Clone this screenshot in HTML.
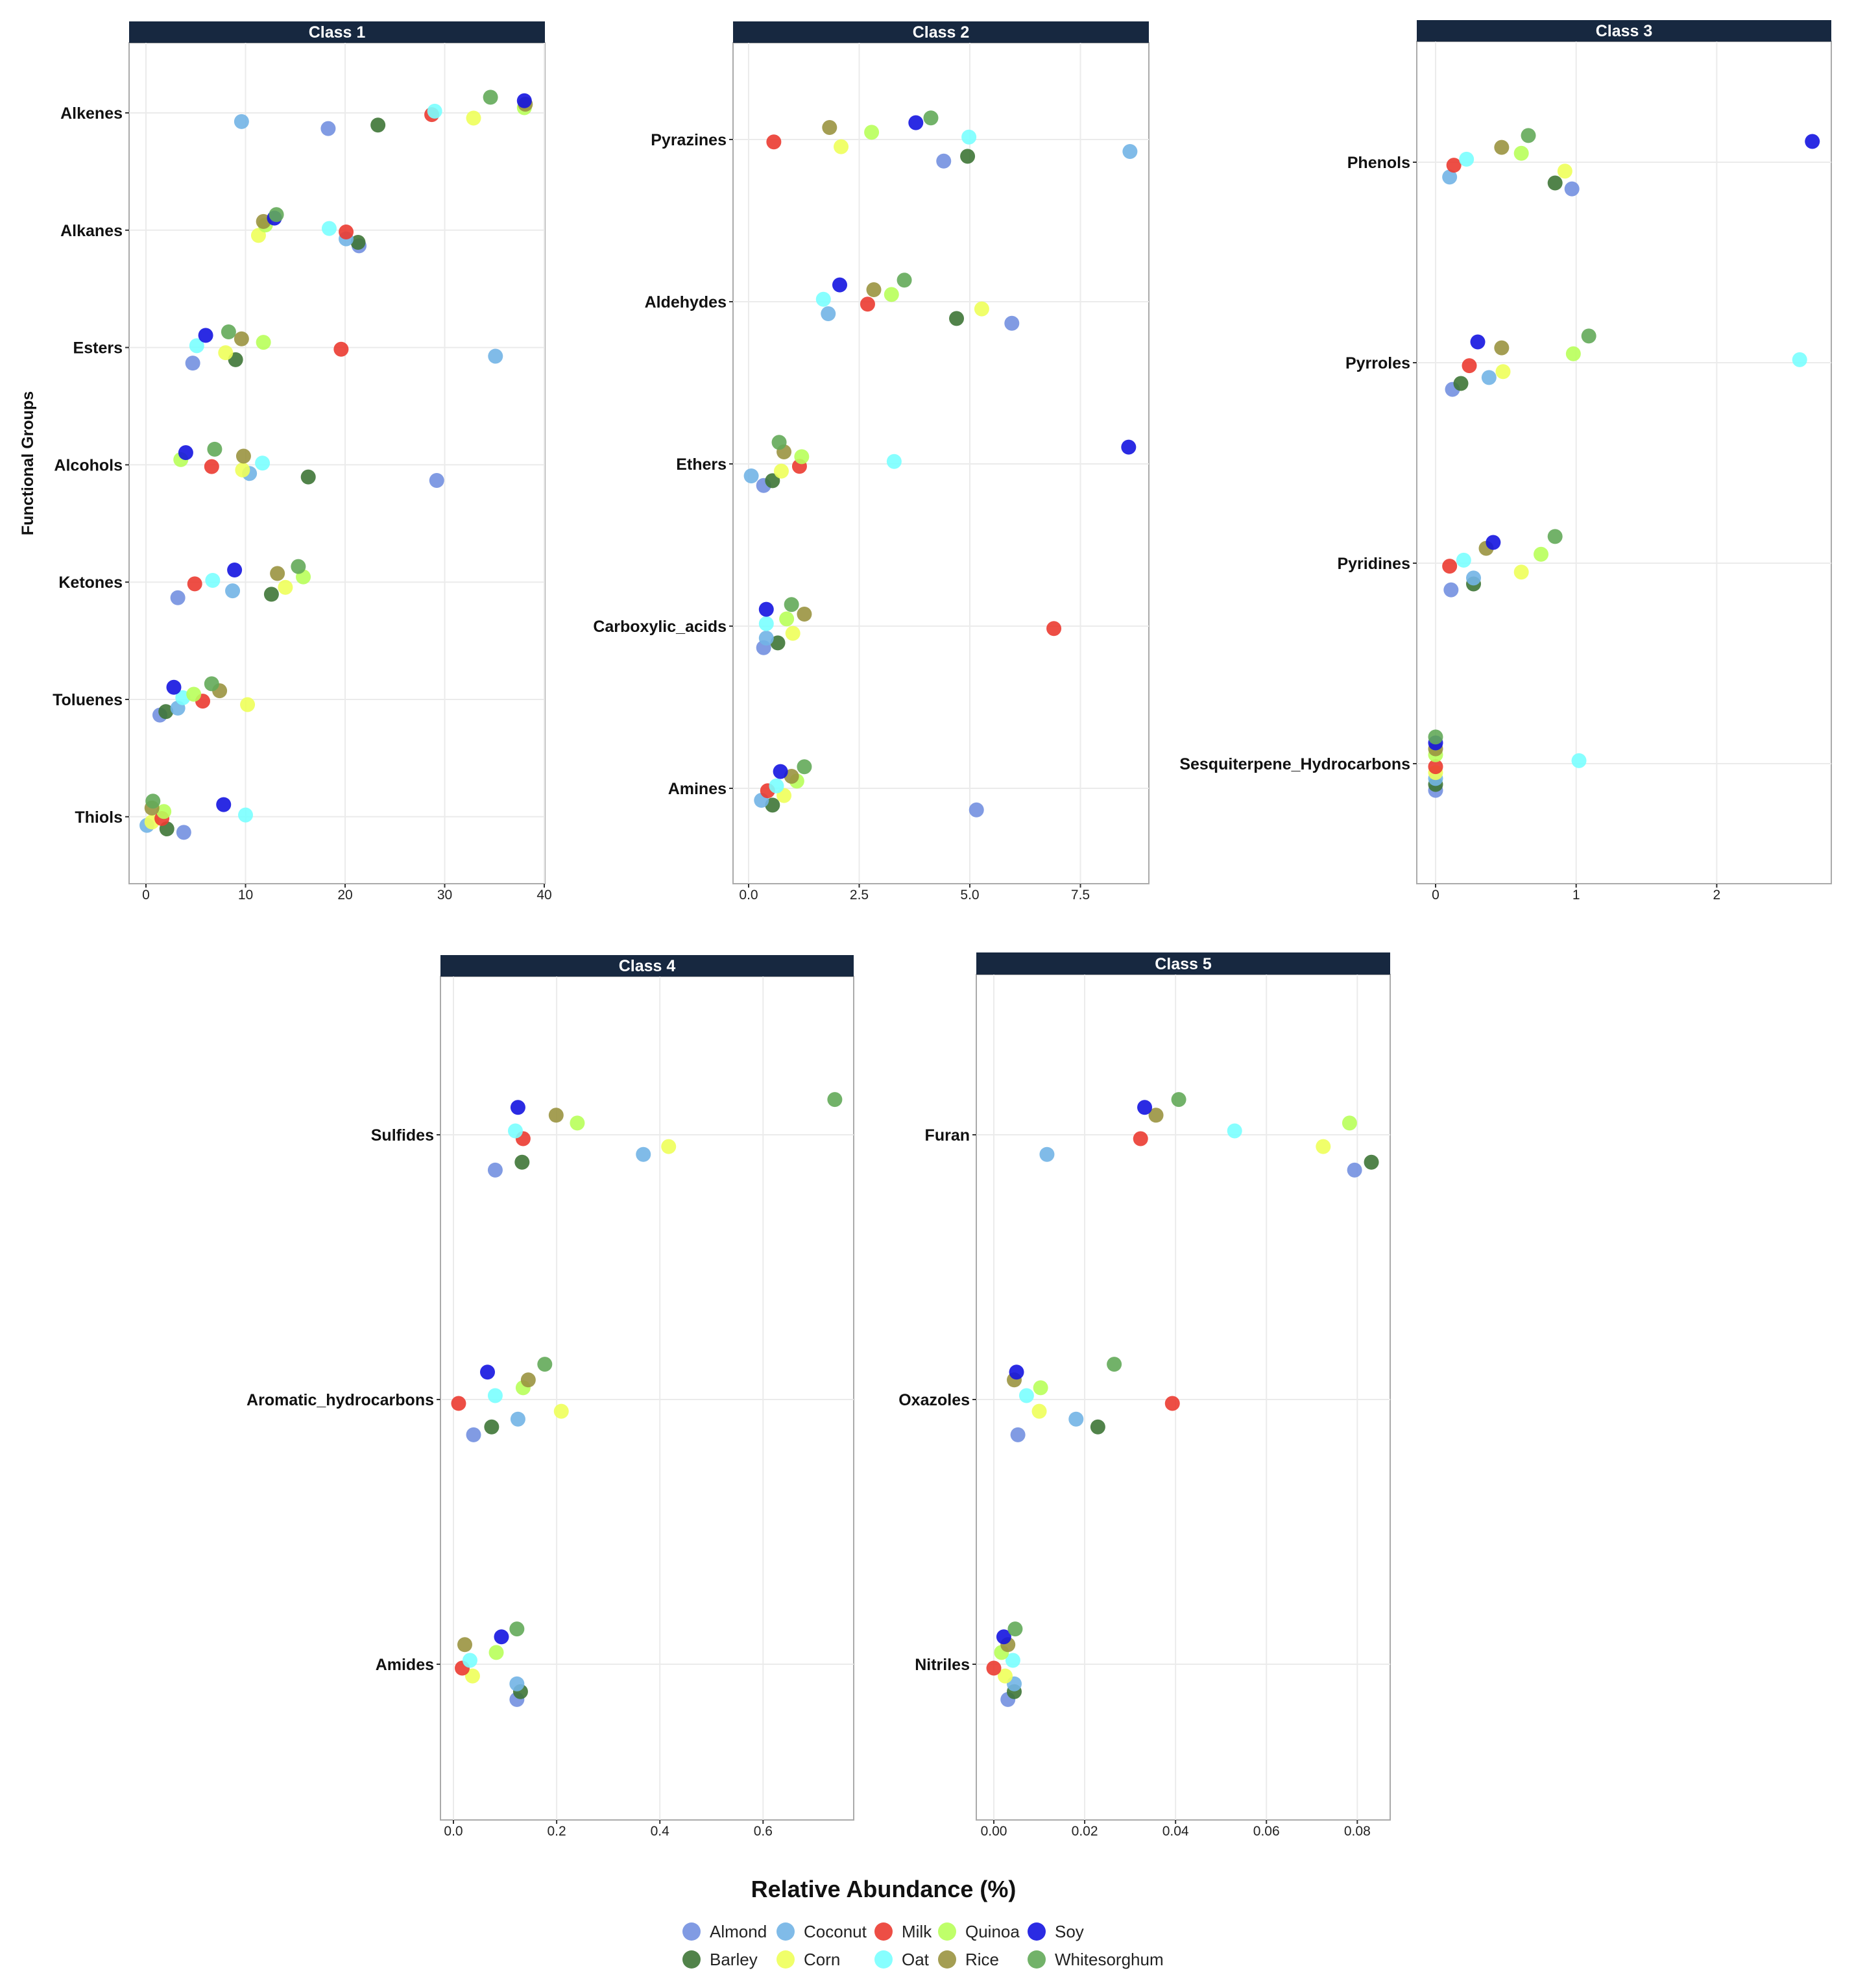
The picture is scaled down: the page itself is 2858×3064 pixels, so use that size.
<!DOCTYPE html>
<html><head><meta charset="utf-8"><style>
html,body{margin:0;padding:0;background:#fff;}
svg{display:block;font-family:"Liberation Sans",Arial,sans-serif;}
</style></head><body>
<svg id="chart" width="2858" height="3064" viewBox="0 0 2858 3064" xmlns="http://www.w3.org/2000/svg"></svg>
<script>
const foods = ["Almond","Barley","Coconut","Corn","Milk","Oat","Quinoa","Rice","Soy","Whitesorghum"];
const colors = ["#7390e0","#3e7536","#72b4e6","#eeff5a","#eb3b31","#7affff","#b8ff5a","#9a9340","#1414e0","#63aa59"];

const class1Cats = ["Alkenes","Alkanes","Esters","Alcohols","Ketones","Toluenes","Thiols"];
const class1Vals = [
 [18.3,23.3,9.6,32.9,28.7,29.0,38.0,38.1,38.0,34.6],
 [21.4,21.3,20.1,11.3,20.1,18.4,12.0,11.8,12.9,13.1],
 [4.7,9.0,35.1,8.0,19.6,5.1,11.8,9.6,6.0,8.3],
 [29.2,16.3,10.4,9.7,6.6,11.7,3.5,9.8,4.0,6.9],
 [3.2,12.6,8.7,14.0,4.9,6.7,15.8,13.2,8.9,15.3],
 [1.4,2.0,3.2,10.2,5.7,3.7,4.8,7.4,2.8,6.6],
 [3.8,2.1,0.1,0.6,1.6,10.0,1.8,0.6,7.8,0.7]];
const class1Ticks = [0,10,20,30,40];

const class2Cats = ["Pyrazines","Aldehydes","Ethers","Carboxylic_acids","Amines"];
const class2Vals = [
 [4.41,4.95,8.62,2.09,0.57,4.98,2.78,1.83,3.78,4.12],
 [5.95,4.70,1.80,5.27,2.69,1.69,3.23,2.83,2.06,3.52],
 [0.34,0.54,0.06,0.74,1.15,3.29,1.20,0.80,8.59,0.69],
 [0.34,0.66,0.40,1.00,6.90,0.40,0.86,1.26,0.40,0.97],
 [5.15,0.54,0.29,0.80,0.43,0.63,1.09,0.97,0.72,1.26]];
const class2Ticks = [0,2.5,5,7.5];
const class2TickLabels = ["0.0","2.5","5.0","7.5"];

const class3Cats = ["Phenols","Pyrroles","Pyridines","Sesquiterpene_Hydrocarbons"];
const class3Vals = [
 [0.97,0.85,0.10,0.92,0.13,0.22,0.61,0.47,2.68,0.66],
 [0.12,0.18,0.38,0.48,0.24,2.59,0.98,0.47,0.30,1.09],
 [0.11,0.27,0.27,0.61,0.10,0.20,0.75,0.36,0.41,0.85],
 [0,0,0,0,0,1.02,0,0,0,0]];
const class3Ticks = [0,1,2];

const class4Cats = ["Sulfides","Aromatic_hydrocarbons","Amides"];
const class4Vals = [
 [0.081,0.133,0.368,0.417,0.135,0.120,0.240,0.199,0.125,0.739],
 [0.039,0.074,0.125,0.209,0.010,0.081,0.135,0.145,0.066,0.177],
 [0.123,0.130,0.123,0.037,0.017,0.032,0.083,0.022,0.093,0.123]];
const class4Ticks = [0,0.2,0.4,0.6];
const class4TickLabels = ["0.0","0.2","0.4","0.6"];

const class5Cats = ["Furan","Oxazoles","Nitriles"];
const class5Vals = [
 [0.0794,0.0831,0.0117,0.0725,0.0323,0.0530,0.0783,0.0357,0.0332,0.0407],
 [0.0053,0.0229,0.0181,0.0100,0.0393,0.0072,0.0103,0.0045,0.0050,0.0265],
 [0.0031,0.0045,0.0045,0.0025,0.0000,0.0042,0.0017,0.0031,0.0022,0.0047]];
const class5Ticks = [0,0.02,0.04,0.06,0.08];
const class5TickLabels = ["0.00","0.02","0.04","0.06","0.08"];

const NS = "http://www.w3.org/2000/svg";
const svg = document.getElementById("chart");
function mk(tag, attrs, parent){ const e=document.createElementNS(NS,tag); for(const k in attrs) e.setAttribute(k,attrs[k]); (parent||svg).appendChild(e); return e; }

function panel(cfg){
  const g = mk("g",{});
  
  
  const xs = v => cfg.x0 + v*cfg.unit;
  const ys = i => cfg.y0 + i*cfg.step;
  const bg = mk("rect",{x:cfg.left,y:cfg.stripBot,width:cfg.right-cfg.left,height:cfg.bottom-cfg.stripBot,fill:"#fff",stroke:"#aaa","stroke-width":2},g);
  
  
  cfg.ticks.forEach((t,k)=>{
    const gl = mk("line",{x1:xs(t),x2:xs(t),y1:cfg.stripBot,y2:cfg.bottom,stroke:"#ebebeb","stroke-width":2},g);
    
    
    mk("line",{x1:xs(t),x2:xs(t),y1:cfg.bottom,y2:cfg.bottom+6,stroke:"#333","stroke-width":2},g);
    const tl = mk("text",{x:xs(t),y:cfg.bottom+24,"text-anchor":"middle","font-size":21,fill:"#222"},g);
    tl.textContent = cfg.tickLabels ? cfg.tickLabels[k] : String(t);
    
    
  });
  cfg.cats.forEach((c,i)=>{
    const gl = mk("line",{x1:cfg.left,x2:cfg.right,y1:ys(i),y2:ys(i),stroke:"#ebebeb","stroke-width":2},g);
    
    
    mk("line",{x1:cfg.left-6,x2:cfg.left,y1:ys(i),y2:ys(i),stroke:"#333","stroke-width":2},g);
    const tl = mk("text",{x:cfg.left-10,y:ys(i)+9,"text-anchor":"end","font-size":25,"font-weight":"bold",fill:"#111"},g);
    tl.textContent = c;
    
    
  });
  cfg.vals.forEach((row,i)=>{
    row.forEach((v,f)=>{
      const off = (4.5-f)*0.0296*cfg.step;
      const p = mk("circle",{cx:xs(v),cy:ys(i)+off,r:11.5,fill:colors[f],"fill-opacity":0.9},g);
      
      
    });
  });
  const st = mk("rect",{x:cfg.left,y:cfg.stripTop,width:cfg.right-cfg.left,height:cfg.stripBot-cfg.stripTop,fill:"#172840"},g);
  
  
  const stt = mk("text",{x:(cfg.left+cfg.right)/2,y:cfg.stripBot-8,"text-anchor":"middle","font-size":25,"font-weight":"bold",fill:"#fff"},g);
  stt.textContent = cfg.title;
  
  
}

panel({name:"class-1-panel",title:"Class 1",left:199,right:840,stripTop:33,stripBot:66,bottom:1362,x0:225,unit:15.35,y0:174,step:180.8,cats:class1Cats,vals:class1Vals,ticks:class1Ticks});
panel({name:"class-2-panel",title:"Class 2",left:1130,right:1771,stripTop:33,stripBot:66,bottom:1362,x0:1154,unit:68.2,y0:215,step:250,cats:class2Cats,vals:class2Vals,ticks:class2Ticks,tickLabels:class2TickLabels});
panel({name:"class-3-panel",title:"Class 3",left:2184,right:2823,stripTop:31,stripBot:64,bottom:1362,x0:2213,unit:216.7,y0:250,step:309,cats:class3Cats,vals:class3Vals,ticks:class3Ticks});
panel({name:"class-4-panel",title:"Class 4",left:679,right:1316,stripTop:1472,stripBot:1505,bottom:2805,x0:699,unit:795.5,y0:1749,step:408,cats:class4Cats,vals:class4Vals,ticks:class4Ticks,tickLabels:class4TickLabels});
panel({name:"class-5-panel",title:"Class 5",left:1505,right:2143,stripTop:1468,stripBot:1502,bottom:2805,x0:1532,unit:7004,y0:1749,step:408,cats:class5Cats,vals:class5Vals,ticks:class5Ticks,tickLabels:class5TickLabels});

const yt = mk("text",{x:0,y:0,transform:"translate(51,714) rotate(-90)","text-anchor":"middle","font-size":25,"font-weight":"bold",fill:"#111"});
yt.textContent = "Functional Groups";


const xt = mk("text",{x:1362,y:2924,"text-anchor":"middle","font-size":36,"font-weight":"bold",fill:"#111"});
xt.textContent = "Relative Abundance (%)";



const legOrder = [["Almond",1066,2977],["Coconut",1211,2977],["Milk",1362,2977],["Quinoa",1460,2977],["Soy",1598,2977],
                  ["Barley",1066,3020],["Corn",1211,3020],["Oat",1362,3020],["Rice",1460,3020],["Whitesorghum",1598,3020]];
legOrder.forEach(([n,x,y])=>{
  const f = foods.indexOf(n);
  const c = mk("circle",{cx:x,cy:y,r:14,fill:colors[f],"fill-opacity":0.9});
  
  
  const t = mk("text",{x:x+28,y:y+9,"font-size":26,fill:"#222"});
  t.textContent = n;
  
  
});
</script>
</body></html>
